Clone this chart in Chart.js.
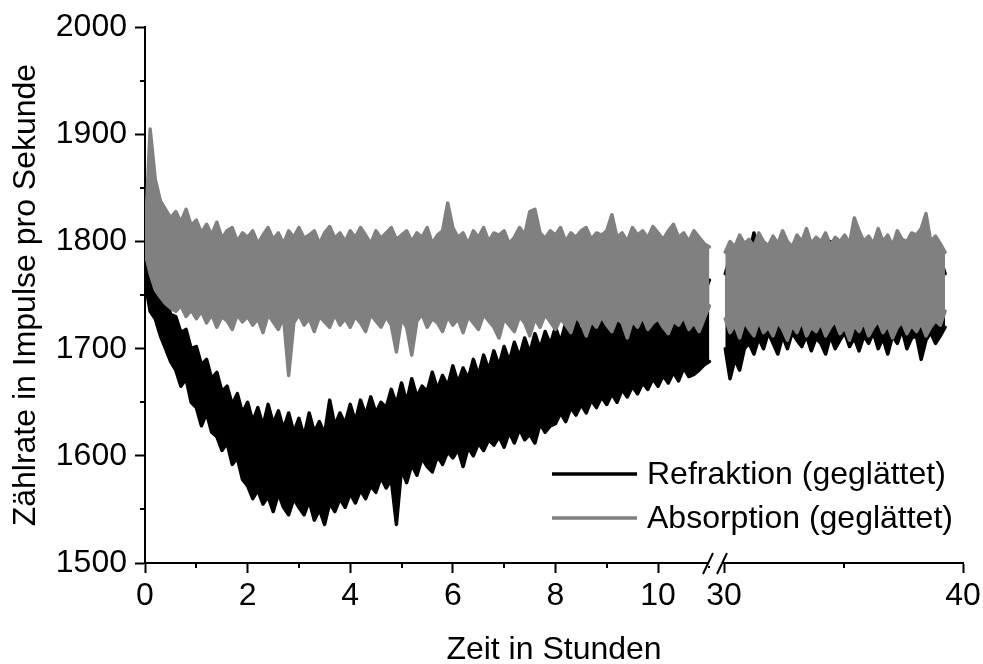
<!DOCTYPE html>
<html>
<head>
<meta charset="utf-8">
<script src="https://cdn.jsdelivr.net/npm/chart.js@4.4.1/dist/chart.umd.min.js"></script>
<style>
  html, body { margin: 0; padding: 0; background: #fff; }
  #wrap { width: 983px; height: 664px; position: relative; }
</style>
</head>
<body>
<div id="wrap"><canvas id="rateChart"></canvas></div>
<script>
// Left part 0..11 h (step 0.1 h), right part 30..39 h (step 0.2 h)
var leftStart = 0, leftStep = 0.1;
var rightStart = 30.05, rightStep = 0.2;

var refrUpperLeft = [
  1795, 1780, 1772, 1755, 1750, 1732, 1730, 1715, 1718, 1700,
  1702, 1685, 1690, 1672, 1678, 1660, 1665, 1648, 1658, 1640,
  1650, 1632, 1645, 1628, 1648, 1630, 1642, 1625, 1640, 1622,
  1635, 1618, 1640, 1622, 1632, 1620, 1652, 1628, 1640, 1630,
  1648, 1632, 1652, 1638, 1655, 1640, 1650, 1645, 1662, 1648,
  1668, 1650, 1672, 1655, 1665, 1660, 1678, 1662, 1675, 1665,
  1684, 1668, 1682, 1672, 1690, 1675, 1694, 1680, 1698, 1684,
  1702, 1688, 1706, 1692, 1710, 1696, 1714, 1700, 1716, 1704,
  1720, 1706, 1724, 1712, 1728, 1714, 1730, 1718, 1734, 1722,
  1738, 1726, 1742, 1730, 1745, 1734, 1748, 1736, 1750, 1740,
  1752, 1742, 1755, 1744, 1758, 1748, 1760, 1750, 1762, 1752,
  1764
];
var refrLowerLeft = [
  1762, 1735, 1728, 1712, 1700, 1688, 1680, 1665, 1672, 1650,
  1645, 1628, 1640, 1622, 1618, 1605, 1612, 1592, 1598, 1578,
  1572, 1560, 1568, 1555, 1562, 1548, 1565, 1552, 1545, 1560,
  1552, 1545, 1558, 1540, 1550, 1536, 1556, 1548, 1560, 1552,
  1565, 1556, 1568, 1560, 1572, 1566, 1580, 1570, 1578, 1536,
  1588, 1575, 1592, 1582, 1598, 1590, 1585, 1600, 1592, 1604,
  1598, 1606, 1590, 1608, 1600, 1612, 1605, 1615, 1610, 1618,
  1608, 1622, 1612, 1625, 1615, 1620, 1612, 1630, 1622, 1628,
  1630, 1640, 1632, 1645, 1638, 1648, 1640, 1652, 1645, 1655,
  1648, 1658, 1650, 1662, 1655, 1665, 1658, 1668, 1662, 1672,
  1665, 1675, 1668, 1678, 1670, 1682, 1674, 1676, 1680, 1685,
  1688
];
var refrUpperRight = [
  1770, 1785, 1778, 1790, 1782, 1788, 1808, 1785, 1790, 1780,
  1792, 1785, 1795, 1782, 1788, 1792, 1786, 1798, 1784, 1790,
  1795, 1788, 1800, 1785, 1792, 1788, 1796, 1790, 1785, 1798,
  1792, 1788, 1802, 1790, 1786, 1795, 1790, 1800, 1788, 1794,
  1806, 1792, 1788, 1796, 1790, 1785, 1770
];
var refrLowerRight = [
  1700, 1672, 1690, 1680, 1700, 1705, 1695, 1710, 1700, 1715,
  1705, 1695, 1712, 1700, 1715, 1708, 1702, 1712, 1698, 1710,
  1705, 1695, 1712, 1700, 1708, 1715, 1702, 1710, 1698, 1712,
  1705, 1715, 1700, 1710, 1695, 1712, 1705, 1718, 1700, 1710,
  1712, 1690, 1708, 1715, 1705, 1712, 1720
];
var absUpperLeft = [
  1800, 1905, 1858, 1838, 1830, 1822, 1828, 1818, 1830, 1815,
  1820, 1808, 1816, 1806, 1818, 1803, 1810, 1813, 1800, 1808,
  1804, 1810, 1798, 1806, 1813, 1802, 1808, 1798, 1810, 1804,
  1813, 1803, 1806, 1810, 1798, 1808, 1814, 1803, 1808, 1800,
  1810, 1804, 1813, 1806, 1798, 1810, 1803, 1808, 1813, 1802,
  1806, 1810, 1800, 1808, 1804, 1813, 1798, 1806, 1810, 1836,
  1813, 1804, 1808, 1798, 1810, 1804, 1813, 1800, 1808, 1806,
  1810, 1798, 1804, 1813, 1806, 1828, 1830, 1808, 1803, 1810,
  1806, 1813, 1800, 1808, 1804, 1810, 1813, 1802, 1808, 1806,
  1810, 1825, 1804, 1808, 1800, 1813, 1806, 1810, 1803, 1814,
  1808, 1802, 1810, 1816, 1804, 1808, 1800, 1810, 1804, 1798,
  1795
];
var absLowerLeft = [
  1790, 1770, 1755, 1748, 1742, 1738, 1735, 1740, 1730, 1736,
  1728, 1735, 1724, 1732, 1720, 1730, 1726, 1718, 1732, 1725,
  1730, 1722, 1728, 1715, 1732, 1725, 1718, 1730, 1675, 1724,
  1732, 1722, 1728, 1716, 1730, 1725, 1720, 1732, 1722, 1728,
  1720, 1730, 1724, 1716, 1732, 1726, 1720, 1730, 1722, 1697,
  1728, 1720, 1694, 1726, 1732, 1720, 1728, 1724, 1716, 1730,
  1722, 1728, 1715, 1730, 1724, 1718, 1732, 1726, 1720, 1710,
  1728, 1722, 1716, 1730, 1724, 1712, 1728, 1720, 1732, 1725,
  1718, 1728, 1722, 1715, 1730, 1724, 1712, 1726, 1720, 1730,
  1722, 1716, 1728, 1724, 1710, 1726, 1720, 1730, 1718, 1724,
  1728, 1720, 1714, 1726, 1722, 1730, 1718, 1724, 1716, 1728,
  1740
];
var absUpperRight = [
  1790, 1800, 1795, 1806, 1798, 1802, 1795, 1808, 1800, 1796,
  1805, 1798, 1810, 1800, 1795, 1806, 1800, 1812, 1798, 1804,
  1800, 1808, 1796, 1804, 1800, 1806, 1798, 1822, 1810, 1800,
  1805, 1798, 1812, 1800, 1806, 1796, 1810, 1802, 1800, 1808,
  1806, 1812, 1826, 1800, 1805, 1798, 1790
];
var absLowerRight = [
  1728, 1715, 1722, 1710, 1725, 1718, 1712, 1726, 1715, 1720,
  1712, 1725, 1718, 1708, 1722, 1715, 1726, 1712, 1720, 1716,
  1724, 1712, 1720, 1726, 1714, 1720, 1708, 1722, 1716, 1725,
  1712, 1720, 1726, 1715, 1722, 1710, 1720, 1725, 1714, 1722,
  1716, 1724, 1712, 1720, 1726, 1722, 1735
];

var seriesNames = ['Refraktion (geglättet)', 'Absorption (geglättet)'];
var seriesColors = ['#000000', '#808080'];

// axis ticks
var leftMajor = [0, 2, 4, 6, 8, 10];
var leftMinor = [1, 3, 5, 7, 9, 11];
var rightMajor = [30, 40];
var rightMinor = [35];
var yMinor = [1550, 1650, 1750, 1850, 1950];

var FONT = "'Liberation Sans', Arial, sans-serif";

function toPoints(values, start, step) {
  return values.map(function (v, i) {
    return { x: +(start + i * step).toFixed(3), y: v };
  });
}

// minor ticks, axis break marks, x title and the inset legend
var extrasPlugin = {
  id: 'extras',
  afterDraw: function (chart) {
    var ctx = chart.ctx;
    var area = chart.chartArea;
    var x1 = chart.scales.x1, x2 = chart.scales.x2, y = chart.scales.y;
    ctx.save();
    ctx.strokeStyle = '#000';
    ctx.lineWidth = 2;
    ctx.beginPath();
    leftMinor.forEach(function (v) {
      var px = Math.round(x1.getPixelForValue(v));
      ctx.moveTo(px, area.bottom); ctx.lineTo(px, area.bottom + 5);
    });
    rightMinor.forEach(function (v) {
      var px = Math.round(x2.getPixelForValue(v));
      ctx.moveTo(px, area.bottom); ctx.lineTo(px, area.bottom + 5);
    });
    yMinor.forEach(function (v) {
      var py = Math.round(y.getPixelForValue(v));
      ctx.moveTo(area.left, py); ctx.lineTo(area.left - 5, py);
    });
    ctx.stroke();

    // break marks //
    var bx = x1.right;
    ctx.fillStyle = '#fff';
    ctx.fillRect(bx - 7, area.bottom - 3, 14, 6);
    ctx.beginPath();
    ctx.moveTo(bx - 12, area.bottom + 11); ctx.lineTo(bx - 2, area.bottom - 10);
    ctx.moveTo(bx + 2, area.bottom + 11); ctx.lineTo(bx + 12, area.bottom - 10);
    ctx.stroke();

    ctx.font = '32px ' + FONT;
    ctx.fillStyle = '#000';
    ctx.textBaseline = 'middle';

    // x title spans both parts of the broken axis
    ctx.textAlign = 'center';
    ctx.fillText('Zeit in Stunden', (area.left + area.right) / 2, 650);

    // legend
    var lx = 552, ly = 474, gap = 44;
    ctx.textAlign = 'left';
    seriesNames.forEach(function (name, i) {
      var yy = ly + i * gap;
      ctx.strokeStyle = seriesColors[i];
      ctx.lineWidth = 3.5;
      ctx.beginPath();
      ctx.moveTo(lx, yy); ctx.lineTo(lx + 85, yy);
      ctx.stroke();
      ctx.fillStyle = '#000';
      ctx.fillText(name, lx + 95, yy + 1);
    });
    ctx.restore();
  }
};

function edgeSet(label, values, start, step, color, axis, order, fillTo) {
  return {
    label: label,
    data: toPoints(values, start, step),
    xAxisID: axis,
    borderColor: color,
    backgroundColor: color,
    borderWidth: 3.5,
    borderJoinStyle: 'round',
    borderCapStyle: 'round',
    pointRadius: 0,
    tension: 0,
    fill: fillTo,
    order: order
  };
}

function xAxis(min, max, step, weight, majors) {
  return {
    type: 'linear',
    position: 'bottom',
    stack: 'zeit',
    stackWeight: weight,
    min: min,
    max: max,
    afterFit: function (s) {
      s.height = 101;
      // layout padding handles the label overhang
      s.paddingLeft = 0;
      s.paddingRight = 0;
    },
    grid: { drawOnChartArea: false, tickLength: 10, tickWidth: 2, tickColor: '#000' },
    border: { display: true, color: '#000', width: 2 },
    ticks: {
      stepSize: step,
      includeBounds: false,
      maxRotation: 0,
      autoSkip: false,
      padding: 4,
      color: '#000',
      font: { family: FONT, size: 32 },
      callback: function (v) { return majors.indexOf(v) >= 0 ? String(v) : ''; }
    }
  };
}

var blk = seriesColors[0], gry = seriesColors[1];

var ch = new Chart(document.getElementById('rateChart').getContext('2d'), {
  type: 'line',
  data: {
    datasets: [
      edgeSet(seriesNames[0], refrUpperLeft, leftStart, leftStep, blk, 'x1', 2, '+1'),
      edgeSet(seriesNames[0], refrLowerLeft, leftStart, leftStep, blk, 'x1', 2, false),
      edgeSet(seriesNames[0], refrUpperRight, rightStart, rightStep, blk, 'x2', 2, '+1'),
      edgeSet(seriesNames[0], refrLowerRight, rightStart, rightStep, blk, 'x2', 2, false),
      edgeSet(seriesNames[1], absUpperLeft, leftStart, leftStep, gry, 'x1', 1, '+1'),
      edgeSet(seriesNames[1], absLowerLeft, leftStart, leftStep, gry, 'x1', 1, false),
      edgeSet(seriesNames[1], absUpperRight, rightStart, rightStep, gry, 'x2', 1, '+1'),
      edgeSet(seriesNames[1], absLowerRight, rightStart, rightStep, gry, 'x2', 1, false)
    ]
  },
  options: {
    responsive: true,
    maintainAspectRatio: false,
    animation: false,
    events: [],
    layout: { padding: { top: 27, right: 20, left: 0, bottom: 0 } },
    plugins: {
      legend: { display: false },
      tooltip: { enabled: false },
      title: { display: false }
    },
    scales: {
      x1: xAxis(0, 11.11, 2, 570, leftMajor),
      x2: xAxis(29.62, 40, 10, 248, rightMajor),
      y: {
        type: 'linear',
        position: 'left',
        min: 1500,
        max: 2000,
        afterFit: function (s) { s.width = 145; },
        grid: { drawOnChartArea: false, tickLength: 10, tickWidth: 2, tickColor: '#000' },
        border: { display: true, color: '#000', width: 2 },
        ticks: {
          stepSize: 100,
          padding: 8,
          color: '#000',
          font: { family: FONT, size: 32 },
          callback: function (v) { return String(v); }
        },
        title: {
          display: true,
          text: 'Zählrate in Impulse pro Sekunde',
          color: '#000',
          padding: { top: 10, bottom: 0 },
          font: { family: FONT, size: 32, lineHeight: 1 }
        }
      }
    }
  },
  plugins: [extrasPlugin]
});
</script>
</body>
</html>
